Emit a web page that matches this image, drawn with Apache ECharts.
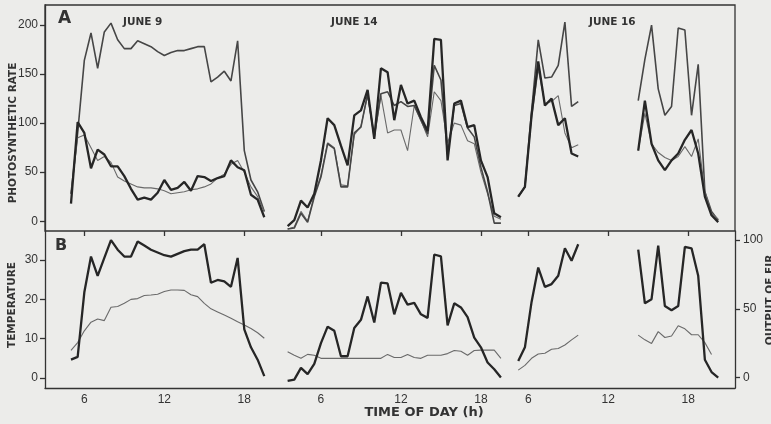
<!DOCTYPE html>
<html>
<head>
<meta charset="utf-8">
<script src="https://cdn.jsdelivr.net/npm/echarts@6/dist/echarts.min.js"></script>
<style>
  html, body { margin: 0; padding: 0; background: #ececea; }
  #chart { width: 771px; height: 424px; }
</style>
</head>
<body>
<div id="chart"></div>
<script>
// Readings are half-hourly; each run starts at the hour given below.
const STEP = 0.5;
const jun9Start = 5.0;
const jun14Start = 3.5;
const jun16AmStart = 5.25;
const jun16PmStart = 14.25;

// Where each day sits along the shared time axis (hours added to clock time)
const jun9Offset = 0;
const jun14Offset = 17.75;
const jun16Offset = 33.3;
const dayOffsets = [jun9Offset, jun14Offset, jun16Offset];
const dayTickHours = [6, 12, 18];

const photoTicks = [0, 50, 100, 150, 200];
const tempTicks = [0, 10, 20, 30];
const eirTicks = [0, 50, 100];

// A: photosynthetic rate
const jun9PhotoHigh  = [28, 90, 164, 192, 156, 193, 202, 185, 176, 176, 184, 181, 178, 173, 169, 172, 174, 174, 176, 178, 178, 142, 147, 153, 143, 184, 72, 42, 30, 10];
const jun9PhotoThick = [18, 101, 90, 54, 73, 68, 56, 56, 46, 33, 22, 24, 22, 29, 42, 32, 34, 40, 31, 46, 45, 41, 44, 46, 62, 55, 52, 27, 22, 4];
const jun9PhotoThin  = [28, 85, 88, 75, 62, 66, 60, 45, 41, 38, 35, 34, 34, 33, 31, 28, 29, 30, 32, 33, 35, 38, 44, 48, 58, 62, 50, 35, 25, 10];

const jun14PhotoA = [-5, 1, 21, 14, 28, 62, 105, 98, 77, 57, 108, 113, 134, 84, 156, 152, 103, 139, 120, 123, 106, 92, 186, 185, 62, 120, 123, 96, 98, 62, 45, 8, 4];
const jun14PhotoB = [-8, -7, 8, -1, 25, 45, 79, 74, 35, 35, 90, 96, 130, 86, 130, 132, 118, 122, 117, 118, 103, 89, 159, 144, 68, 118, 120, 95, 86, 55, 30, -2, -2];
const jun14PhotoC = [-8, -6, 10, 0, 26, 47, 80, 75, 37, 36, 88, 97, 128, 86, 128, 90, 93, 93, 72, 118, 103, 86, 132, 123, 80, 100, 98, 82, 79, 50, 28, 5, 2];

const jun16AmPhotoHigh  = [25, 35, 112, 185, 146, 147, 159, 203, 117, 122];
const jun16AmPhotoThick = [25, 35, 108, 163, 118, 125, 98, 105, 69, 66];
const jun16AmPhotoThin  = [25, 35, 105, 155, 120, 122, 128, 90, 75, 78];

const jun16PmPhotoHigh  = [123, 165, 200, 135, 108, 117, 197, 195, 108, 160, 30, 10, 1];
const jun16PmPhotoThick = [72, 123, 79, 62, 52, 62, 69, 83, 93, 69, 25, 6, -1];
const jun16PmPhotoThin  = [72, 110, 79, 70, 65, 62, 66, 76, 66, 84, 30, 8, 2];

// B: output of EIR (right scale) and temperature (left scale)
const jun9Eir  = [13, 15, 62, 88, 74, 87, 100, 93, 88, 88, 99, 96, 93, 91, 89, 88, 90, 92, 93, 93, 97, 69, 71, 70, 66, 87, 35, 22, 13, 1];
const jun9Temp = [7, 9, 12, 14.2, 15, 14.6, 18, 18.2, 19, 20, 20.2, 21, 21.1, 21.3, 22, 22.4, 22.4, 22.3, 21.2, 20.7, 19, 17.6, 16.8, 16, 15.2, 14.3, 13.5, 12.6, 11.5, 10.1];

const jun14Eir  = [-2.5, -1.5, 7, 2.5, 10, 25, 37, 34, 15.5, 15.5, 36, 42, 59, 40, 69, 68.5, 46, 61.6, 53, 54.3, 46, 43.4, 89.5, 88.2, 38, 54, 51, 44, 29, 22, 11, 6, 0];
const jun14Temp = [6.7, 5.8, 5.0, 6.0, 5.8, 5.0, 5.0, 5.0, 5.0, 5.0, 5.0, 5.0, 5.0, 5.0, 5.0, 6.0, 5.2, 5.2, 6.0, 5.2, 5.0, 5.8, 5.8, 5.8, 6.2, 7.0, 6.8, 5.8, 7.0, 7.1, 7.1, 7.1, 5.0];

const jun16AmEir  = [12, 22, 55, 80, 66, 68, 74, 94, 85, 97];
const jun16AmTemp = [2.0, 3.2, 5.0, 6.1, 6.3, 7.3, 7.5, 8.4, 9.7, 10.9];
const jun16PmEir  = [93, 54, 57, 96, 52, 49, 52, 95, 94, 74, 13, 4, 0];
const jun16PmTemp = [10.9, 9.7, 8.8, 11.8, 10.3, 10.7, 13.3, 12.5, 11.0, 11.0, 9.0, 6.0];

// pair each reading with its position on the time axis
function pts(start, vals, offset) {
  return vals.map((v, i) => [offset + start + i * STEP, v]);
}

const INK = '#333333';
const thick  = { color: '#262626', width: 2.3 };
const medium = { color: '#464646', width: 1.6 };
const thin   = { color: '#6a6a6a', width: 1.1 };

function line(data, style, xAxisIndex, yAxisIndex) {
  return {
    type: 'line', data, xAxisIndex, yAxisIndex,
    symbol: 'none', silent: true,
    lineStyle: { color: style.color, width: style.width },
    itemStyle: { color: style.color }
  };
}

const tickPositions = [];
const tickTexts = {};
dayOffsets.forEach(off => dayTickHours.forEach(h => {
  tickPositions.push(off + h);
  tickTexts[(off + h).toFixed(3)] = String(h);
}));

const X_MIN = 3.05, X_MAX = 54.81;
const FONT = 'Liberation Sans, Arial, sans-serif';
const TITLE_FONT = 'bold 10.5px "DejaVu Sans", sans-serif';
const axisLineStyle = { show: true, onZero: false, lineStyle: { color: INK, width: 1.3 } };
const tickStyle = { color: INK, width: 1.3 };

const chart = echarts.init(document.getElementById('chart'), null, { width: 771, height: 424 });

chart.setOption({
  backgroundColor: '#ececea',
  animation: false,
  grid: [
    { left: 45, top: 5, width: 690, height: 226, show: true, borderColor: INK, borderWidth: 1.3, backgroundColor: 'transparent' },
    { left: 45, top: 231, width: 690, height: 157, show: false }
  ],
  xAxis: [
    // panel A time axis: only its ticks show, hanging down into panel B
    { gridIndex: 0, type: 'value', min: X_MIN, max: X_MAX, position: 'bottom',
      axisLine: { show: false, onZero: false }, splitLine: { show: false }, axisLabel: { show: false },
      axisTick: { show: true, inside: false, length: 5, customValues: tickPositions, lineStyle: tickStyle } },
    // panel B time axis with the hour labels
    { gridIndex: 1, type: 'value', min: X_MIN, max: X_MAX, position: 'bottom',
      axisLine: axisLineStyle,
      splitLine: { show: false }, axisTick: { show: false },
      axisLabel: { show: true, customValues: tickPositions, margin: 6, color: INK, fontSize: 12, fontFamily: FONT,
        formatter: v => tickTexts[Number(v).toFixed(3)] || '' } }
  ],
  yAxis: [
    { gridIndex: 0, type: 'value', min: -10, max: 220.5, position: 'left',
      axisLine: axisLineStyle, splitLine: { show: false },
      axisTick: { show: true, length: 5, customValues: photoTicks, lineStyle: tickStyle },
      axisLabel: { customValues: photoTicks, margin: 7, color: INK, fontSize: 12, fontFamily: FONT } },
    { gridIndex: 1, type: 'value', min: -2.55, max: 37.4, position: 'left',
      axisLine: axisLineStyle, splitLine: { show: false },
      axisTick: { show: true, length: 5, customValues: tempTicks, lineStyle: tickStyle },
      axisLabel: { customValues: tempTicks, margin: 7, color: INK, fontSize: 12, fontFamily: FONT } },
    { gridIndex: 1, type: 'value', min: -7.6, max: 106.6, position: 'right',
      axisLine: axisLineStyle, splitLine: { show: false },
      axisTick: { show: true, length: 5, customValues: eirTicks, lineStyle: tickStyle },
      axisLabel: { customValues: eirTicks, margin: 8, color: INK, fontSize: 12, fontFamily: FONT } }
  ],
  graphic: [
    { type: 'text', left: 58, top: 10, style: { text: 'A', font: 'bold 17px "DejaVu Sans", sans-serif', fill: INK } },
    { type: 'text', left: 55, top: 238, style: { text: 'B', font: 'bold 16px "DejaVu Sans", sans-serif', fill: INK } },
    { type: 'text', left: 123, top: 17, style: { text: 'JUNE 9', font: TITLE_FONT, fill: INK } },
    { type: 'text', left: 331, top: 17, style: { text: 'JUNE 14', font: TITLE_FONT, fill: INK } },
    { type: 'text', left: 589, top: 17, style: { text: 'JUNE 16', font: TITLE_FONT, fill: INK } },
    { type: 'text', x: 13, y: 133, rotation: Math.PI / 2,
      style: { text: 'PHOTOSYNTHETIC RATE', font: TITLE_FONT, fill: INK, align: 'center', verticalAlign: 'middle' } },
    { type: 'text', x: 12, y: 305, rotation: Math.PI / 2,
      style: { text: 'TEMPERATURE', font: TITLE_FONT, fill: INK, align: 'center', verticalAlign: 'middle' } },
    { type: 'text', x: 770, y: 300, rotation: Math.PI / 2,
      style: { text: 'OUTPUT OF EIR', font: TITLE_FONT, fill: INK, align: 'center', verticalAlign: 'middle' } },
    { type: 'text', x: 424, y: 413,
      style: { text: 'TIME OF DAY (h)', font: 'bold 13px "DejaVu Sans", sans-serif', fill: INK, align: 'center', verticalAlign: 'middle' } }
  ],
  series: [
    // A, June 9
    line(pts(jun9Start, jun9PhotoHigh, jun9Offset), medium, 0, 0),
    line(pts(jun9Start, jun9PhotoThin, jun9Offset), thin, 0, 0),
    line(pts(jun9Start, jun9PhotoThick, jun9Offset), thick, 0, 0),
    // A, June 14
    line(pts(jun14Start, jun14PhotoC, jun14Offset), thin, 0, 0),
    line(pts(jun14Start, jun14PhotoB, jun14Offset), medium, 0, 0),
    line(pts(jun14Start, jun14PhotoA, jun14Offset), thick, 0, 0),
    // A, June 16 morning and afternoon
    line(pts(jun16AmStart, jun16AmPhotoHigh, jun16Offset), medium, 0, 0),
    line(pts(jun16AmStart, jun16AmPhotoThin, jun16Offset), thin, 0, 0),
    line(pts(jun16AmStart, jun16AmPhotoThick, jun16Offset), thick, 0, 0),
    line(pts(jun16PmStart, jun16PmPhotoHigh, jun16Offset), medium, 0, 0),
    line(pts(jun16PmStart, jun16PmPhotoThin, jun16Offset), thin, 0, 0),
    line(pts(jun16PmStart, jun16PmPhotoThick, jun16Offset), thick, 0, 0),
    // B, temperature (left scale)
    line(pts(jun9Start, jun9Temp, jun9Offset), thin, 1, 1),
    line(pts(jun14Start, jun14Temp, jun14Offset), thin, 1, 1),
    line(pts(jun16AmStart, jun16AmTemp, jun16Offset), thin, 1, 1),
    line(pts(jun16PmStart, jun16PmTemp, jun16Offset), thin, 1, 1),
    // B, output of EIR (right scale)
    line(pts(jun9Start, jun9Eir, jun9Offset), thick, 1, 2),
    line(pts(jun14Start, jun14Eir, jun14Offset), thick, 1, 2),
    line(pts(jun16AmStart, jun16AmEir, jun16Offset), thick, 1, 2),
    line(pts(jun16PmStart, jun16PmEir, jun16Offset), thick, 1, 2)
  ]
});
</script>
</body>
</html>
